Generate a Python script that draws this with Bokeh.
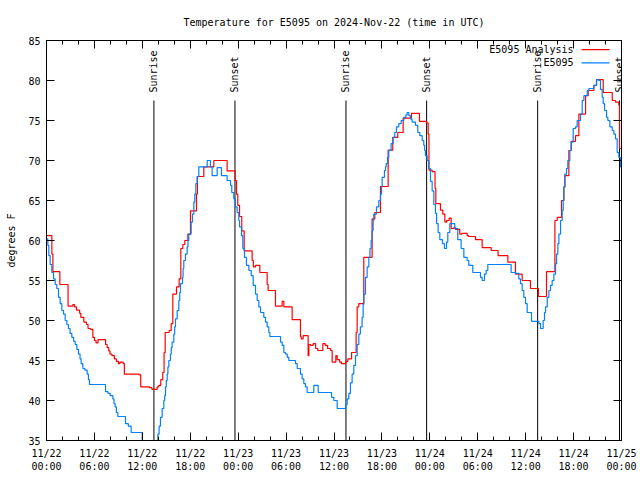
import math
from bokeh.plotting import figure
from bokeh.models import FixedTicker, LinearAxis, Range1d
from bokeh.core.properties import value
from bokeh.embed import file_html
from bokeh.resources import INLINE

# ---------------- data (hours since 2024-11-22 00:00 UTC, degrees F) ----------------
analysis_hours = [0, 0.67, 0.8, 1.67, 2.7, 3.3, 3.5, 3.75, 4.15, 4.3, 4.67, 5.0, 5.2, 5.5, 5.8, 6.0, 6.2,
                  6.45, 7.4, 7.6, 7.8, 7.95, 8.2, 8.5, 8.75, 9.0, 9.2, 9.6, 9.75, 11.35, 11.6, 11.8, 12.9,
                  13.2, 13.86, 14.06, 14.31, 14.56, 14.72, 14.86, 15.36, 15.61, 15.82, 16.28, 16.61, 16.82,
                  17.07, 17.32, 17.7, 18.03, 18.78, 18.9, 19.7, 20.95, 22.62, 23.62, 23.79, 23.95, 24.17,
                  24.45, 24.75, 25.75, 25.9, 26.17, 26.71, 27.63, 27.75, 28.67, 29.51, 29.72, 30.76, 31.8,
                  31.9, 32.14, 32.76, 32.85, 33.06, 33.39, 33.7, 33.97, 34.6, 34.9, 35.2, 35.56, 35.77,
                  36.23, 36.4, 36.7, 36.94, 37.48, 37.73, 38.2, 38.77, 38.9, 39.1, 39.73, 40.77, 41.11,
                  41.82, 42.78, 43.36, 43.99, 44.66, 45.7, 46.7, 47.58, 47.79, 47.89, 48.29, 48.65, 48.75,
                  49.33, 49.62, 49.88, 50.1, 50.42, 50.67, 51.0, 51.2, 51.75, 52.0, 52.67, 52.85, 53.72,
                  54.55, 55.68, 56.55, 57.77, 58.72, 59.56, 60.6, 61.6, 62.61, 63.66, 63.95, 64.49, 64.78,
                  64.91, 65.41, 65.7, 66.24, 66.66, 67.5, 67.83, 68.54, 68.87, 69.71, 70.84, 71.25, 71.67,
                  71.75, 72.0]
analysis_temp = [60.6, 58.3, 56.1, 54.5, 51.8, 52.0, 51.7, 51.3, 50.9, 50.4, 49.8, 49.5, 49.0, 48.9, 47.9,
                 47.5, 47.2, 47.6, 47.0, 46.6, 46.2, 45.8, 45.6, 45.2, 44.9, 44.6, 44.8, 44.6, 43.3, 43.3,
                 43.2, 41.7, 41.6, 41.4, 41.7, 41.9, 42.6, 43.5, 46.0, 48.5, 48.75, 49.6, 53.3, 54.2, 55.2,
                 59.0, 59.5, 60.0, 60.8, 63.7, 65.8, 68.0, 69.2, 70.0, 68.7, 67.5, 65.8, 64.4, 63.0, 61.2,
                 58.7, 57.5, 56.7, 56.9, 56.0, 54.5, 53.75, 51.8, 52.4, 51.7, 50.1, 48.0, 47.7, 48.1, 45.6,
                 47.0, 46.9, 47.1, 46.5, 46.25, 47.1, 46.9, 46.5, 46.25, 44.8, 45.6, 45.1, 44.8, 44.6, 44.9,
                 45.2, 46.0, 48.5, 51.7, 52.1, 57.9, 62.7, 63.5, 66.75, 71.3, 72.9, 73.5, 75.3, 75.9, 74.9,
                 74.7, 73.3, 68.8, 68.6, 66.5, 64.6, 63.8, 63.3, 62.3, 62.5, 62.8, 61.5, 61.6, 61.4, 60.8,
                 60.9, 60.6, 60.5, 60.1, 59.1, 58.75, 58.1, 57.3, 55.8, 55.0, 54.0, 53.0, 56.1, 62.5, 62.9,
                 65.0, 66.7, 68.1, 71.25, 72.4, 73.1, 75.8, 78.1, 78.75, 79.4, 80.1, 78.5, 77.5, 77.3, 76.9,
                 71.5, 71.5]

station_hours = [0, 0.17, 0.29, 0.46, 0.67, 0.88, 1.09, 1.29, 1.5, 1.71, 1.92, 2.13, 2.34, 2.55, 2.75, 2.95,
                 3.17, 3.4, 3.59, 3.8, 4.01, 4.2, 4.34, 4.55, 4.8, 5.09, 5.25, 5.38, 7.39, 7.7, 7.97, 8.31,
                 8.45, 8.6, 8.75, 8.93, 9.89, 10.25, 10.6, 11.98, 12.5, 13.3, 13.77, 13.94, 14.1, 14.27,
                 14.48, 14.69, 14.8, 14.9, 15.0, 15.11, 15.2, 15.32, 15.52, 15.62, 15.73, 15.94, 16.05,
                 16.15, 16.36, 16.57, 16.68, 16.78, 17.03, 17.1, 17.19, 17.4, 17.61, 17.72, 17.82, 18.11,
                 18.28, 18.45, 18.57, 18.7, 18.86, 19.07, 20.12, 20.53, 20.74, 21.37, 21.91, 22.62, 23.04,
                 23.2, 23.45, 23.66, 23.87, 24.08, 24.17, 24.42, 24.58, 24.79, 25.04, 25.34, 25.63, 25.88,
                 26.17, 26.38, 26.59, 26.8, 27.21, 27.42, 27.63, 27.84, 27.97, 29.3, 29.51, 29.72, 29.93,
                 30.14, 30.34, 31.18, 31.39, 31.8, 32.01, 32.22, 32.43, 32.64, 33.47, 34.02, 35.69, 35.98,
                 36.4, 37.45, 37.65, 37.86, 38.06, 38.27, 38.48, 38.69, 38.9, 39.11, 39.3, 39.52, 39.65,
                 39.73, 39.94, 40.15, 40.36, 40.5, 40.65, 40.77, 40.9, 40.98, 41.32, 41.61, 41.82, 41.95,
                 42.03, 42.32, 42.45, 42.53, 42.7, 42.86, 43.15, 43.4, 43.61, 43.82, 44.11, 44.41, 44.74,
                 45.0, 45.16, 45.37, 45.57, 45.78, 46.2, 46.49, 46.74, 47.04, 47.24, 47.35, 47.45, 47.66,
                 47.87, 48.08, 48.29, 48.5, 48.7, 48.85, 49.04, 49.25, 49.58, 49.83, 50.09, 50.25, 50.5,
                 51.13, 51.5, 51.92, 52.26, 52.67, 52.88, 53.38, 54.34, 54.55, 54.84, 55.05, 55.26, 58.18,
                 58.72, 59.14, 59.35, 59.56, 59.77, 59.98, 60.19, 60.73, 61.65, 61.86, 62.19, 62.36, 62.49,
                 62.7, 62.91, 63.11, 63.32, 63.53, 63.74, 63.87, 64.03, 64.16, 64.37, 64.57, 64.7, 64.78,
                 64.91, 65.12, 65.28, 65.53, 65.7, 65.95, 66.24, 66.45, 66.87, 67.08, 67.29, 67.71, 67.91,
                 68.54, 68.87, 69.17, 69.37, 69.58, 69.71, 69.88, 70.13, 70.29, 70.54, 70.84, 71.04, 71.25,
                 71.46, 71.67, 71.88, 72.0]
station_temp = [60.2, 59.4, 58.1, 57.0, 56.0, 55.2, 54.5, 54.0, 52.9, 52.1, 51.25, 50.8, 50.0, 49.5, 49.0,
                48.4, 47.9, 47.4, 47.0, 46.4, 45.8, 45.2, 44.6, 44.0, 43.8, 43.3, 42.6, 42.0, 41.1, 40.9,
                40.6, 40.2, 39.6, 39.2, 38.5, 38.0, 37.1, 36.8, 36.0, 34.5, 34.0, 34.5, 35.0, 35.8, 36.8,
                37.9, 39.0, 40.0, 40.6, 41.7, 42.5, 43.3, 44.2, 45.0, 45.8, 46.6, 47.3, 48.3, 49.2, 50.2,
                51.25, 52.5, 53.5, 54.6, 55.4, 56.5, 57.5, 58.3, 59.2, 60.0, 60.8, 62.3, 63.3, 64.8, 65.8,
                67.1, 68.0, 69.2, 70.0, 69.2, 68.1, 69.1, 68.1, 67.5, 66.9, 66.0, 65.2, 64.2, 63.5, 62.5,
                61.7, 60.6, 59.0, 57.9, 56.9, 56.25, 55.6, 54.4, 53.3, 52.5, 51.7, 51.0, 50.4, 49.8, 49.2,
                48.5, 48.0, 47.3, 46.9, 46.0, 45.8, 45.4, 45.0, 44.6, 44.0, 43.3, 42.7, 42.1, 41.7, 41.0,
                41.9, 41.0, 40.4, 40.0, 39.0, 39.5, 40.2, 40.9, 42.2, 43.3, 44.4, 45.6, 47.0, 48.3, 49.2,
                50.4, 52.0, 53.3, 55.4, 56.7, 57.9, 59.0, 60.0, 61.25, 62.5, 63.3, 64.2, 65.0, 65.8, 66.7,
                67.9, 68.75, 69.2, 69.6, 70.4, 71.25, 72.1, 72.9, 73.5, 74.2, 74.6, 75.0, 75.4, 75.7, 76.0,
                75.6, 75.2, 74.8, 74.4, 73.5, 73.1, 72.5, 71.9, 71.25, 70.6, 70.0, 69.0, 67.4, 66.2, 64.5,
                63.4, 62.1, 61.0, 60.1, 59.6, 59.0, 59.8, 61.0, 62.1, 61.5, 60.1, 59.0, 57.9, 57.5, 56.9,
                56.0, 55.4, 55.0, 55.8, 56.25, 57.0, 56.0, 55.9, 55.2, 54.6, 53.75, 52.9, 52.1, 51.0, 49.9,
                49.6, 49.0, 50.0, 51.0, 51.7, 52.9, 53.75, 54.4, 55.0, 55.8, 57.1, 58.3, 59.6, 60.8, 62.5,
                63.75, 65.0, 66.7, 68.3, 69.0, 70.0, 71.25, 72.3, 74.0, 74.2, 75.0, 75.8, 77.5, 78.1, 78.75,
                79.0, 79.4, 80.1, 80.0, 78.9, 77.9, 77.1, 76.25, 75.4, 75.0, 74.2, 73.75, 73.3, 72.7, 71.0,
                70.4, 69.2, 69.2]

sun_event_hours = [13.45, 23.6, 37.5, 47.6, 61.5, 71.75]
sun_event_names = ["Sunrise", "Sunset", "Sunrise", "Sunset", "Sunrise", "Sunset"]

x_tick_hours = list(range(0, 73, 6))
x_tick_labels = ["11/22\n00:00", "11/22\n06:00", "11/22\n12:00", "11/22\n18:00",
                 "11/23\n00:00", "11/23\n06:00", "11/23\n12:00", "11/23\n18:00",
                 "11/24\n00:00", "11/24\n06:00", "11/24\n12:00", "11/24\n18:00",
                 "11/25\n00:00"]
x_minor_hours = list(range(0, 73, 2))
y_ticks = [35, 40, 45, 50, 55, 60, 65, 70, 75, 80, 85]

series_names = ["E5095 Analysis", "E5095"]
series_colors = ["#ff0000", "#0080ff"]

# ---------------- style / layout ----------------
FONT = "DejaVu Sans Mono"
FS = "10px"
X0, X1, Y0, Y1 = 0, 72, 35, 85

p = figure(frame_width=575, frame_height=400,
           x_range=Range1d(X0, X1), y_range=Range1d(Y0, Y1),
           output_backend="svg", toolbar_location=None,
           min_border_left=46, min_border_right=19, min_border_top=40, min_border_bottom=40,
           background_fill_color="white", border_fill_color="white")
p.grid.visible = False
p.outline_line_color = "black"
p.outline_line_width = 1

p.title.text = "Temperature for E5095 on 2024-Nov-22 (time in UTC)"
p.title.align = "center"
p.title.vertical_align = "top"
p.title.text_font = FONT
p.title.text_font_size = FS
p.title.text_font_style = "normal"
p.title.text_color = "black"
p.title.standoff = 22

bottom = p.below[0]
left = p.left[0]

xt = FixedTicker(ticks=x_tick_hours, minor_ticks=x_minor_hours)
yt = FixedTicker(ticks=y_ticks, minor_ticks=[])

top = LinearAxis(ticker=xt)
right = LinearAxis(ticker=yt)
p.add_layout(top, "above")
p.add_layout(right, "right")

bottom.ticker = xt
left.ticker = yt
bottom.major_label_overrides = {h: lab for h, lab in zip(x_tick_hours, x_tick_labels)}
bottom.major_label_standoff = 7
left.major_label_standoff = 6
left.axis_label = "degrees F"
left.axis_label_text_font = FONT
left.axis_label_text_font_size = FS
left.axis_label_text_font_style = "normal"
left.axis_label_text_color = "black"
left.axis_label_standoff = 8

for ax in [bottom, left, top, right]:
    ax.major_tick_in = 8
    ax.major_tick_out = 0
    ax.minor_tick_in = 4
    ax.minor_tick_out = 0
    ax.axis_line_color = "black"
    ax.major_tick_line_color = "black"
    ax.minor_tick_line_color = "black"
    ax.major_label_text_font = FONT
    ax.major_label_text_font_size = FS
    ax.major_label_text_color = "black"
for ax, ticks in [(top, x_tick_hours), (right, y_ticks)]:
    ax.major_label_text_font_size = "0px"
    ax.major_label_standoff = 0
    ax.major_label_overrides = {t: "" for t in ticks}

# sunrise / sunset markers
line_top = 77.5
p.segment(x0=sun_event_hours, y0=[Y0] * len(sun_event_hours),
          x1=sun_event_hours, y1=[line_top] * len(sun_event_hours),
          line_color="black", line_width=1)
p.text(x=sun_event_hours, y=[line_top + 1.0] * len(sun_event_hours), text=sun_event_names,
       angle=math.pi / 2, text_align="left", text_baseline="middle",
       text_font=value(FONT), text_font_size=FS, text_color="black")

# series
p.step(analysis_hours, analysis_temp, mode="after", line_color=series_colors[0], line_width=1.2)
p.step(station_hours, station_temp, mode="after", line_color=series_colors[1], line_width=1.2)

# gnuplot-style key (text then sample line), top right inside the frame
key_text_x = 66.0
key_x0, key_x1 = 67.0, 70.5
key_y = [83.85, 82.2]
p.text(x=[key_text_x] * 2, y=key_y, text=series_names, text_align="right", text_baseline="middle",
       text_font=value(FONT), text_font_size=FS, text_color="black")
p.segment(x0=[key_x0] * 2, y0=key_y, x1=[key_x1] * 2, y1=key_y, line_color=series_colors, line_width=1.2)

open("out.html", "w").write(file_html(p, INLINE))
